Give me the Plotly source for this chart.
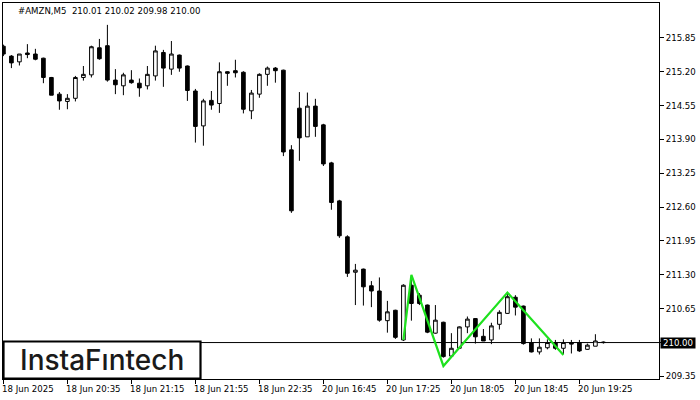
import plotly.graph_objects as go

# ---------------- data ----------------
bar_index = list(range(76))
opens = [215.69, 215.50, 215.39, 215.56, 215.54, 215.46, 215.09, 214.77, 214.63, 214.69,
         215.09, 215.14, 215.66, 215.70, 215.04, 214.93, 215.04, 214.98, 214.93, 215.12,
         215.57, 215.25, 215.52, 215.31, 214.83, 214.16, 214.65, 214.59, 215.20, 215.22,
         215.19, 214.45, 214.77, 215.15, 215.27, 215.23, 213.70, 214.50, 213.95, 214.54,
         214.18, 213.45, 212.72, 212.03, 211.35, 211.41, 211.09, 210.99, 210.42, 210.62,
         210.05, 211.10, 210.91, 210.72, 210.18, 210.39, 209.74, 209.89, 210.30, 210.46,
         210.12, 210.05, 210.35, 210.56, 210.87, 210.70, 210.00, 209.82, 209.90, 210.00,
         209.89, 210.00, 210.00, 209.87, 209.93, 210.01]
highs = [215.72, 215.52, 215.54, 215.73, 215.64, 215.47, 215.10, 214.81, 214.77, 215.12,
         215.31, 215.70, 215.83, 216.10, 215.25, 215.18, 215.23, 215.07, 215.31, 215.70,
         215.62, 215.79, 215.53, 215.32, 214.87, 214.68, 214.83, 215.38, 215.21, 215.43,
         215.21, 214.85, 215.17, 215.30, 215.29, 215.24, 213.79, 214.81, 214.80, 214.68,
         214.20, 213.47, 212.74, 212.06, 211.51, 211.42, 211.18, 211.25, 210.80, 210.63,
         211.12, 211.28, 210.95, 210.73, 210.72, 210.40, 210.18, 210.31, 210.50, 210.47,
         210.26, 210.38, 210.62, 210.96, 210.91, 210.71, 210.08, 210.08, 210.06, 210.05,
         210.06, 210.05, 210.05, 209.98, 210.16, 210.02]
lows = [215.50, 215.27, 215.32, 215.46, 215.42, 214.98, 214.75, 214.47, 214.48, 214.63,
        215.03, 215.09, 215.43, 215.01, 214.77, 214.75, 214.97, 214.72, 214.86, 215.03,
        214.91, 215.14, 215.20, 214.64, 213.84, 213.78, 214.47, 214.41, 214.93, 215.09,
        214.40, 214.29, 214.70, 214.93, 214.99, 213.58, 212.49, 213.49, 213.95, 213.95,
        213.39, 212.55, 212.01, 211.26, 210.72, 210.71, 210.68, 210.40, 210.19, 210.07,
        210.03, 210.42, 210.72, 210.18, 210.17, 209.71, 209.73, 209.88, 210.18, 209.98,
        210.03, 209.97, 210.25, 210.55, 210.52, 209.96, 209.81, 209.77, 209.87, 209.86,
        209.78, 209.79, 209.82, 209.86, 209.93, 209.98]
closes = [215.54, 215.37, 215.54, 215.53, 215.44, 215.09, 214.75, 214.64, 214.69, 215.09,
          215.15, 215.68, 215.45, 215.04, 214.95, 215.14, 214.99, 214.89, 215.15, 215.60,
          215.27, 215.54, 215.27, 214.84, 214.15, 214.64, 214.56, 215.20, 215.17, 215.18,
          214.48, 214.79, 215.15, 215.27, 215.22, 213.66, 212.53, 213.93, 214.54, 214.15,
          213.43, 212.69, 212.05, 211.33, 211.39, 211.07, 210.99, 210.43, 210.59, 210.10,
          211.10, 210.75, 210.75, 210.20, 210.43, 209.73, 209.89, 210.30, 210.45, 210.11,
          210.03, 210.32, 210.58, 210.88, 210.68, 209.98, 209.82, 209.91, 210.00, 209.89,
          210.00, 209.97, 209.84, 209.95, 210.03, 210.00]

pattern_x = [50, 51, 55, 63, 70]
pattern_y = [210.05, 211.30, 209.55, 210.96, 209.76]

x_tick_idx = [0, 8, 16, 24, 32, 40, 48, 56, 64, 72]
x_tick_labels = ["18 Jun 2025", "18 Jun 20:35", "18 Jun 21:15", "18 Jun 21:55", "18 Jun 22:35",
                 "20 Jun 16:45", "20 Jun 17:25", "20 Jun 18:05", "20 Jun 18:45", "20 Jun 19:25"]
y_tick_vals = [209.35, 210.00, 210.65, 211.30, 211.95, 212.60, 213.25, 213.90, 214.55, 215.20, 215.85]
y_tick_labels = ["209.35", "", "210.65", "211.30", "211.95", "212.60", "213.25",
                 "213.90", "214.55", "215.20", "215.85"]
current_price = 210.00
current_price_label = "210.00"
title_text = "#AMZN,M5  210.01 210.02 209.98 210.00"
logo_text = "InstaF\u0131ntech"

# ---------------- layout helpers ----------------
W, H = 700, 400
ML, MR, MT, MB = 3, 41, 3, 21
PW = W - ML - MR
PH = H - MT - MB


def px_x(x):
    return (x - ML) / PW


def px_y(y):
    return (H - MB - y) / PH


FONT = "DejaVu Sans"
FS = 8.6

fig = go.Figure()
fig.add_trace(go.Candlestick(
    x=bar_index, open=opens, high=highs, low=lows, close=closes,
    increasing=dict(fillcolor="white", line=dict(color="black", width=1)),
    decreasing=dict(fillcolor="black", line=dict(color="black", width=1)),
    whiskerwidth=0, showlegend=False, hoverinfo="skip",
))
fig.add_trace(go.Scatter(
    x=pattern_x, y=pattern_y, mode="lines",
    line=dict(color="rgb(30,225,30)", width=2.2),
    showlegend=False, hoverinfo="skip",
))

annotations = []
for i, lab in zip(x_tick_idx, x_tick_labels):
    annotations.append(dict(
        x=i, xref="x", y=0, yref="paper", text=lab, showarrow=False,
        xanchor="left", yanchor="top", xshift=-3, yshift=-3,
        font=dict(family=FONT, size=FS, color="black"),
    ))
annotations.append(dict(
    x=px_x(16), xref="paper", y=px_y(10.7), yref="paper", text=title_text,
    showarrow=False, xanchor="left", yanchor="middle",
    font=dict(family=FONT, size=FS, color="black"),
))
annotations.append(dict(
    x=1, xref="paper", y=current_price, yref="y", text=current_price_label,
    showarrow=False, xanchor="left", yanchor="middle", xshift=1,
    bgcolor="black", width=34, height=10, borderpad=0,
    font=dict(family=FONT, size=FS, color="white"),
))
annotations.append(dict(
    x=px_x(102), xref="paper", y=px_y(359.5), yref="paper", text=logo_text,
    showarrow=False, xanchor="center", yanchor="middle",
    font=dict(family="Inter", size=28, color="#1a1a1a", weight=500),
))

shapes = [
    dict(type="line", xref="paper", x0=0, x1=1, yref="y", y0=current_price, y1=current_price,
         line=dict(color="black", width=1), layer="below"),
    dict(type="rect", xref="paper", x0=px_x(3.5), x1=px_x(200.5), yref="paper",
         y0=px_y(378.5), y1=px_y(341.5), line=dict(color="black", width=2.2),
         fillcolor="white", layer="above"),
]

fig.update_layout(
    width=W, height=H,
    margin=dict(l=ML, r=MR, t=MT, b=MB, pad=0, autoexpand=False),
    paper_bgcolor="white", plot_bgcolor="white",
    annotations=annotations, shapes=shapes,
    boxgap=0.35,
    xaxis=dict(
        range=[-0.05, 81.95], rangeslider=dict(visible=False),
        showgrid=False, zeroline=False, automargin=False,
        showline=True, mirror=True, linecolor="black", linewidth=1,
        tickmode="array", tickvals=x_tick_idx, ticks="outside", ticklen=4,
        tickcolor="black", tickwidth=1, showticklabels=False,
    ),
    yaxis=dict(
        range=[209.30, 216.52], side="right",
        showgrid=False, zeroline=False, automargin=False,
        showline=True, mirror=True, linecolor="black", linewidth=1,
        tickmode="array", tickvals=y_tick_vals, ticktext=y_tick_labels,
        ticks="outside", ticklen=4, tickcolor="black", tickwidth=1,
        tickfont=dict(family=FONT, size=FS, color="black"),
    ),
)

fig.write_html(
    "out.html",
    config={"displayModeBar": False, "staticPlot": True},
    post_script="document.body.style.margin='0px';document.body.style.padding='0px';",
)
